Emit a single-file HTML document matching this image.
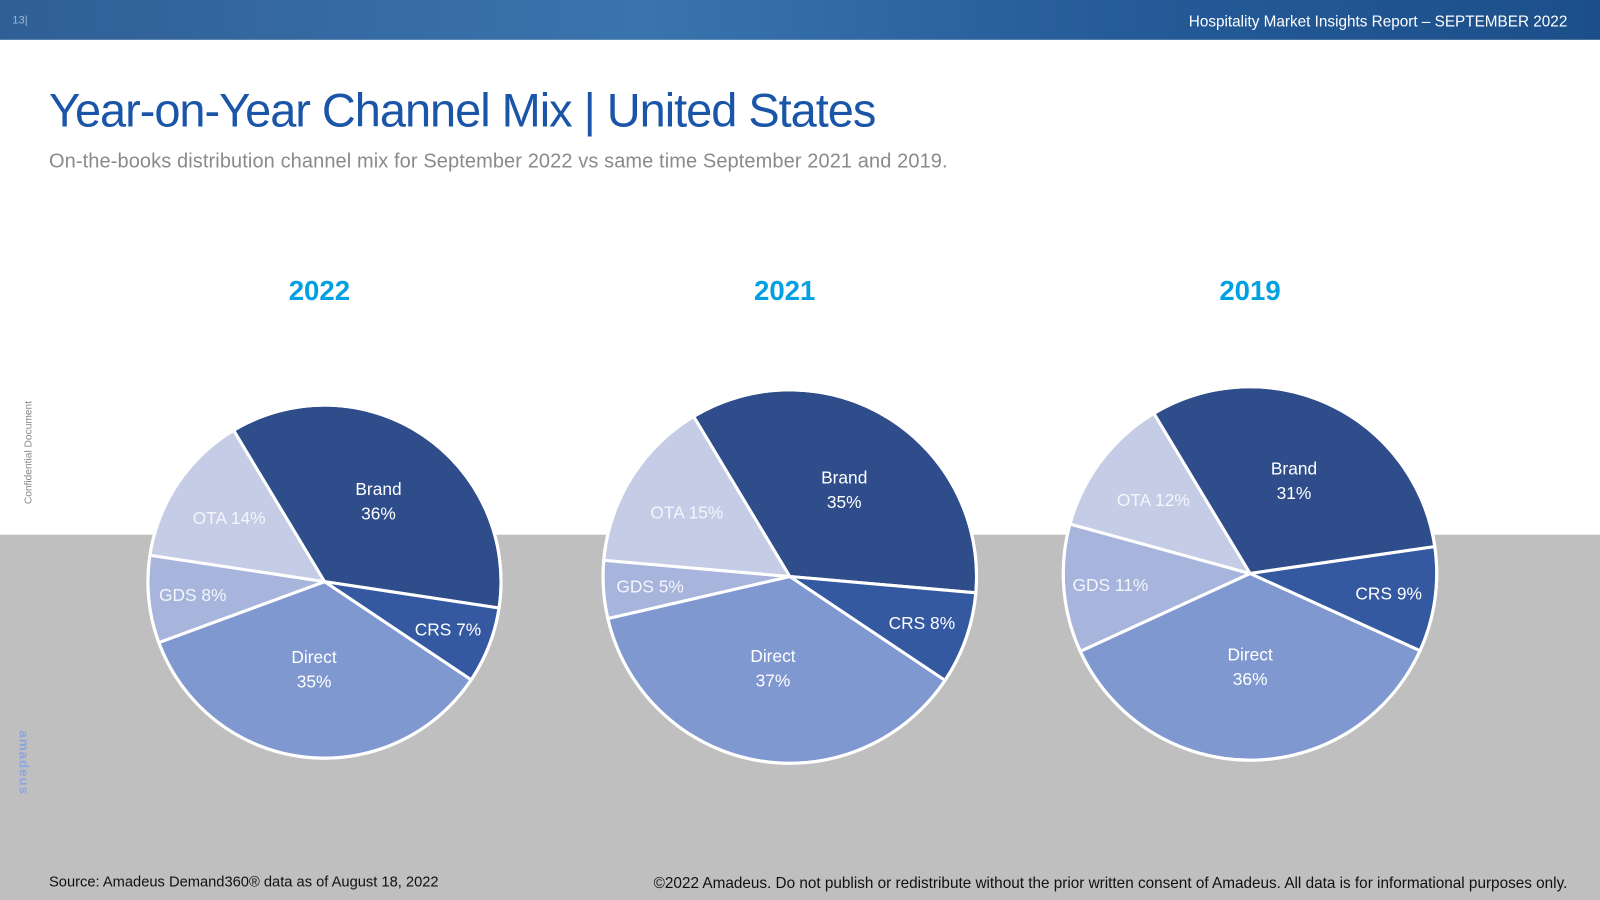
<!DOCTYPE html>
<html><head><meta charset="utf-8"><style>
body{margin:0;width:1600px;height:900px;background:#fff;position:relative;overflow:hidden;font-family:"Liberation Sans",sans-serif}
#wrap{position:absolute;left:0;top:0;width:1568px;height:882px;transform:scale(1.02041);transform-origin:0 0}
.abs{position:absolute}
</style></head><body>
<div id="wrap">
<div class="abs" style="left:0;top:0;width:1568px;height:39px;background:linear-gradient(90deg,#2f5f95,#3a74ad 40%,#245b98 70%,#1c4f8a)"></div>
<div class="abs" style="left:12px;top:14px;font-size:11px;color:#9fb6d4">13|</div>
<div class="abs" style="right:32px;top:13px;font-size:15px;color:#fff">Hospitality Market Insights Report – SEPTEMBER 2022</div>
<div class="abs" style="left:0;top:524px;width:1568px;height:358px;background:#bfbfbf"></div>
<div class="abs" style="left:48px;top:81px;font-size:46px;color:#1a55a8;letter-spacing:-1px">Year-on-Year Channel Mix | United States</div>
<div class="abs" style="left:48px;top:147px;font-size:19.6px;color:#8a8a8a;letter-spacing:0.1px">On-the-books distribution channel mix for September 2022 vs same time September 2021 and 2019.</div>
<div class="abs" style="left:-22px;top:438px;font-size:10px;color:#888;transform:rotate(-90deg)">Confidential Document</div>
<div class="abs" style="left:-8px;top:740px;font-size:13px;font-weight:bold;color:#8aa6e0;transform:rotate(90deg);letter-spacing:1px">amadeus</div>
<div class="abs" style="left:48px;top:857px;font-size:14.4px;color:#111">Source: Amadeus Demand360® data as of August 18, 2022</div>
<div class="abs" style="right:32px;top:857px;font-size:15px;color:#111">©2022 Amadeus. Do not publish or redistribute without the prior written consent of Amadeus. All data is for informational purposes only.</div>
<svg id="chart" class="abs" style="left:0;top:0" width="1568" height="882"></svg>
</div>
<script>
const years=["2022","2021","2019"];
const categories=["Brand","CRS","Direct","GDS","OTA"];
const values2022=[36,7,35,8,14];
const values2021=[35,8,37,5,15];
const values2019=[31,9,36,11,12];
const allValues=[values2022,values2021,values2019];
const colors=["#2e4d8a","#3459a0","#8098d0","#a7b4dc","#c4cce6"];
const centers=[[318,570,173],[774,565,183],[1225,562,183]];
const labelR=[0.55,0.75,0.5,0.75,0.65];
const titleX=[313,769,1225];
const NS="http://www.w3.org/2000/svg";
const svg=document.getElementById('chart');
function pt(cx,cy,r,a){const t=a*Math.PI/180;return [cx+r*Math.sin(t),cy-r*Math.cos(t)];}
years.forEach((y,i)=>{
  const [cx,cy,r]=centers[i];const vals=allValues[i];
  const tot=vals.reduce((a,b)=>a+b,0);
  const tt=document.createElementNS(NS,'text');
  
  
  tt.setAttribute('x',titleX[i]);tt.setAttribute('y',294);tt.setAttribute('text-anchor','middle');
  tt.setAttribute('font-size','27');tt.setAttribute('font-weight','bold');tt.setAttribute('fill','#00a0e2');
  tt.textContent=y;svg.appendChild(tt);
  let a=-31;
  vals.forEach((v,j)=>{
    const sw=v/tot*360;const a2=a+sw;
    const p1=pt(cx,cy,r,a),p2=pt(cx,cy,r,a2);
    const p=document.createElementNS(NS,'path');
    
    
    p.setAttribute('d',`M${cx},${cy}L${p1[0]},${p1[1]}A${r},${r} 0 ${sw>180?1:0} 1 ${p2[0]},${p2[1]}Z`);
    p.setAttribute('fill',colors[j]);p.setAttribute('stroke','#fff');p.setAttribute('stroke-width','3');
    svg.appendChild(p);
    const lp=pt(cx,cy,r*labelR[j],a+sw/2);
    const tx=document.createElementNS(NS,'text');
    
    
    tx.setAttribute('text-anchor','middle');tx.setAttribute('font-size','17');
    tx.setAttribute('fill',j>=3?'#f4f6fb':'#fff');
    if(j===0||j===2){
      const s1=document.createElementNS(NS,'tspan');s1.setAttribute('x',lp[0]);s1.setAttribute('y',lp[1]-6);s1.textContent=categories[j];
      const s2=document.createElementNS(NS,'tspan');s2.setAttribute('x',lp[0]);s2.setAttribute('y',lp[1]+18);s2.textContent=v+'%';
      tx.appendChild(s1);tx.appendChild(s2);
    } else {tx.setAttribute('x',lp[0]);tx.setAttribute('y',lp[1]+6);tx.textContent=categories[j]+' '+v+'%';}
    svg.appendChild(tx);
    a=a2;
  });
  const c=document.createElementNS(NS,'circle');
  
  
  c.setAttribute('cx',cx);c.setAttribute('cy',cy);c.setAttribute('r',r);c.setAttribute('fill','none');c.setAttribute('stroke','#fff');c.setAttribute('stroke-width','3');
  svg.appendChild(c);
});
</script>
</body></html>
